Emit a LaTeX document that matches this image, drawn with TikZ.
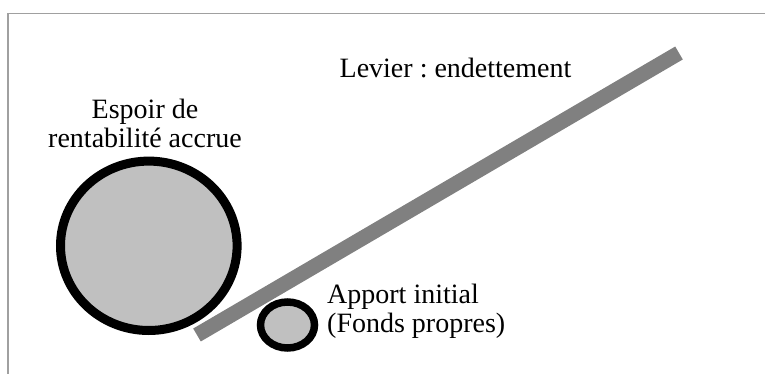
\documentclass[tikz,border=0pt]{standalone}
\usepackage{fontspec}
\setmainfont{Liberation Serif}
\usepackage{tikz}
\usetikzlibrary{positioning}
\definecolor{levergray}{HTML}{808080}
\definecolor{wheelgray}{HTML}{C0C0C0}
\definecolor{framegray}{HTML}{A0A0A0}
\frenchspacing

\begin{document}
\begin{tikzpicture}[x=1pt,y=-1pt,
 lever/.style={draw=levergray,line width=15pt},
 wheel/.style={draw=black,fill=wheelgray},
 lab/.style={font=\fontsize{28}{28.5}\selectfont,inner sep=0pt}]
\useasboundingbox (0,0) rectangle (765,374);
\draw[framegray,line width=1.5pt] (8,374)--(8,13.5)--(765,13.5);
\coordinate (L0) at (197,335);
\coordinate (L1) at (679,53);
\draw[lever] (L0)--(L1);
\draw[wheel,line width=9pt] (148.8,245.8) ellipse (88.3 and 84.7);
\draw[wheel,line width=7.5pt] (287.5,325) ellipse (27 and 23);
\node[lab,anchor=base] (levier) at (455.5,78) {Levier : endettement};
\node[lab,align=center,anchor=north] (espoir) at (145,99.2)
 {Espoir de\\rentabilité accrue};
\node[lab,align=left,anchor=north west] (apport) at (327,284.2)
 {Apport initial\\(Fonds propres)};
\end{tikzpicture}
\end{document}
